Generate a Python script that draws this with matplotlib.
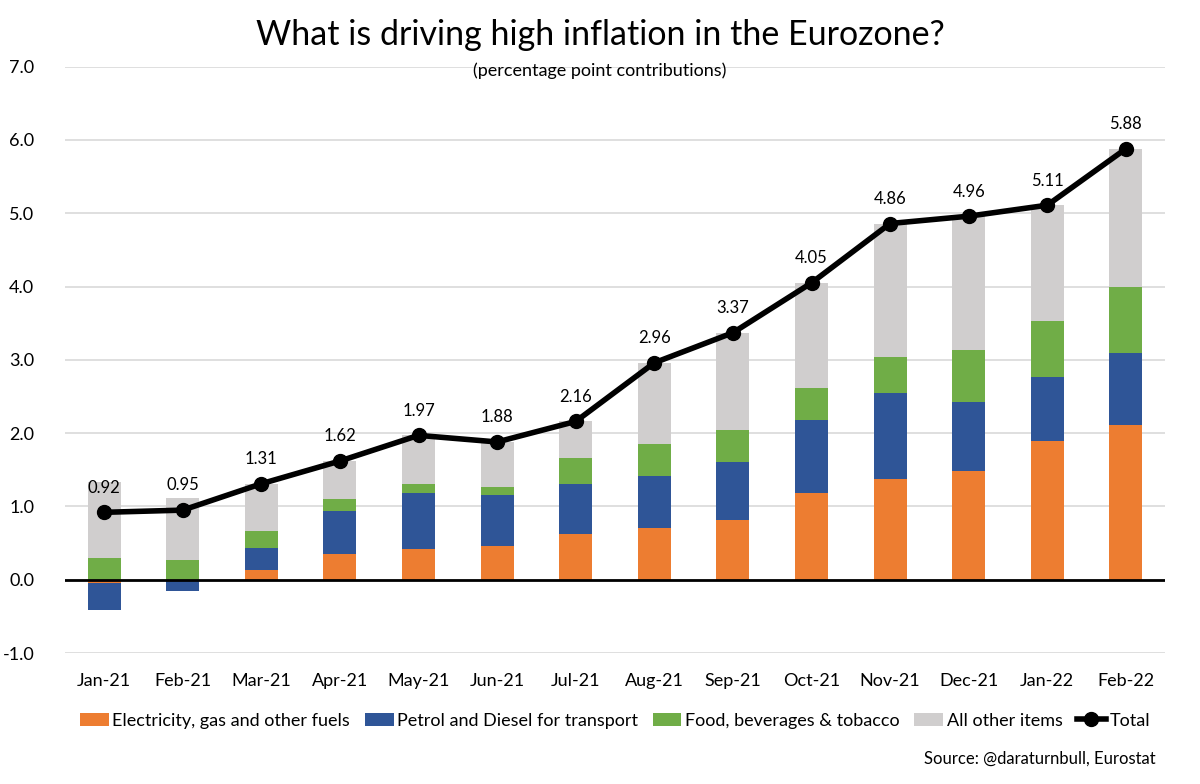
import matplotlib
matplotlib.use('Agg')
import numpy as np
import matplotlib.pyplot as plt
from matplotlib.ticker import FormatStrFormatter

plt.rcParams['font.family'] = ['Lato', 'DejaVu Sans']

months = ['Jan-21', 'Feb-21', 'Mar-21', 'Apr-21', 'May-21', 'Jun-21', 'Jul-21',
          'Aug-21', 'Sep-21', 'Oct-21', 'Nov-21', 'Dec-21', 'Jan-22', 'Feb-22']
energy = [-0.05, -0.02, 0.14, 0.35, 0.42, 0.46, 0.62, 0.70, 0.82, 1.19, 1.38, 1.49, 1.89, 2.11]
fuel = [-0.36, -0.14, 0.30, 0.59, 0.76, 0.69, 0.68, 0.71, 0.78, 0.99, 1.17, 0.93, 0.87, 0.99]
food = [0.30, 0.27, 0.22, 0.16, 0.13, 0.12, 0.36, 0.44, 0.44, 0.44, 0.49, 0.72, 0.77, 0.90]
other = [1.03, 0.84, 0.65, 0.52, 0.66, 0.61, 0.50, 1.11, 1.33, 1.43, 1.82, 1.82, 1.58, 1.88]
total = [0.92, 0.95, 1.31, 1.62, 1.97, 1.88, 2.16, 2.96, 3.37, 4.05, 4.86, 4.96, 5.11, 5.88]

series = [
    ('Electricity, gas and other fuels', energy, '#ED7D31'),
    ('Petrol and Diesel for transport', fuel, '#2F5597'),
    ('Food, beverages & tobacco', food, '#70AD47'),
    ('All other items', other, '#D0CECE'),
]

fig = plt.figure(figsize=(12, 7.84), dpi=100)
ax = fig.add_axes([0.054, 0.167, 0.917, 0.748])

x = np.arange(len(months))
pos_base = np.zeros(len(months))
neg_base = np.zeros(len(months))
for label, vals, color in series:
    vals = np.array(vals)
    bottoms = np.where(vals >= 0, pos_base, neg_base)
    ax.bar(x, vals, 0.42, bottom=bottoms, color=color, label=label, zorder=2)
    pos_base = pos_base + np.where(vals >= 0, vals, 0)
    neg_base = neg_base + np.where(vals < 0, vals, 0)

ax.plot(x, total, color='black', lw=4, marker='o', ms=10, label='Total', zorder=4)
for xi, t in zip(x, total):
    ax.annotate('{:.2f}'.format(t), (xi, t), xytext=(0, 12), textcoords='offset points',
                ha='center', va='bottom', fontsize=12)

ax.axhline(0, color='black', lw=2, zorder=3)
ax.set_ylim(-1, 7)
ax.set_xlim(-0.5, len(months) - 0.5)
ax.set_yticks(np.arange(-1, 7.1, 1))
ax.yaxis.set_major_formatter(FormatStrFormatter('%.1f'))
ax.set_xticks(x)
ax.set_xticklabels(months)
ax.tick_params(axis='both', length=0, labelsize=13)
ax.tick_params(axis='x', pad=14)
ax.tick_params(axis='y', pad=22)
ax.grid(axis='y', color='#D9D9D9', lw=1.2, zorder=0)
ax.set_axisbelow(True)
for s in ax.spines.values():
    s.set_visible(False)

fig.text(0.5, 0.955, 'What is driving high inflation in the Eurozone?', ha='center',
         va='center', fontsize=24.5)
fig.text(0.5, 0.91, '(percentage point contributions)', ha='center', va='center', fontsize=13)

handles, labels = ax.get_legend_handles_labels()
order = [1, 2, 3, 4, 0]
ax.legend([handles[i] for i in order], [labels[i] for i in order],
          loc='center', bbox_to_anchor=(0.5, -0.115), ncol=5, frameon=False,
          fontsize=13, handlelength=1.6, handletextpad=0.2, columnspacing=0.8)
fig.text(0.963, 0.033, 'Source: @daraturnbull, Eurostat', ha='right', va='center', fontsize=12)

fig.savefig('out.png', dpi=100)
